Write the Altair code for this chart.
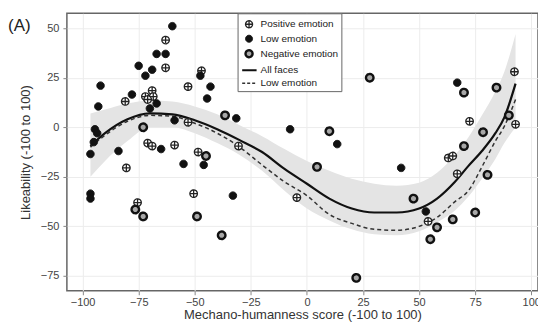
import altair as alt
import pandas as pd

# ---- data ----
pos_x = [-63, -63, -81, -69, -72, -68.5, -71, -53, -47, -53, -71, -69, -59, -48.5, -30.5,
         -80.5, -75.5, -50.5, -4.5, 92.5, 72.5, 93, 63, 65, 67, 54]
pos_y = [44, 30, 13, 18.5, 15.5, 15.5, 14, 20.5, 28.5, 2.5, -8, -9.5, -9, -12.5, -9.5,
         -20.5, -38, -33.5, -35.5, 28, 3, 1.5, -15.5, -14.5, -23.5, -47.5]

low_x = [-60, -67, -63, -75, -69, -72, -92, -78, -67, -70, -93, -47.5, -43, -44.5, -31.5,
         -59, -94.5, -93.5, -95, -96.5, -84, -65, -55, -46, -96.5, -96.5, -33, -7.5, 13.5,
         42, 67, 53]
low_y = [51, 37, 37, 31, 29, 26, 21, 16.5, 12, 9.5, 10.5, 26, 20.5, 14.5, 4.5,
         3.5, -1, -3, -7.5, -13.5, -12, -11, -18.5, -19, -33.5, -36, -34.5, -1, -8.5,
         -20.5, 22.5, -42.5]

neg_x = [-73, -36.5, -45, -76.5, -73, -49, -38, 28, 10, 4.5, 70, 84.5, 90, 78.5, 70,
         80.5, 47.5, 58, 55, 65, 75, 22]
neg_y = [0, 6, -14.5, -41.5, -45, -45, -54.5, 25, -2, -20, 17.5, 20, 6, -2.5, -9.5,
         -24, -36, -50.5, -56.5, -46.5, -43, -76]

fit_x = [-96.5, -90, -80, -70, -60, -50, -40, -30, -20, -10, 0, 10, 20, 30, 40, 50,
         58, 66, 72, 78, 84, 88, 93]
all_y = [-9.5, -3, 4, 7, 6.5, 3.5, -1, -6.5, -12.5, -21, -28.5, -36, -41, -43, -43, -41,
         -36, -27.5, -19.5, -12, -3, 5, 22]
lowfit_y = [-10, -4, 3, 6, 5.5, 2, -3, -10, -19, -27.5, -34.5, -44, -48.5, -51.5, -52, -50,
            -45.5, -37.5, -32, -20, -7, 0.5, 14]
band_lo = [-25, -17, -7, 0, 0, -3, -8, -14, -22, -32, -41, -47, -51.5, -54, -54.5, -52.5,
           -48, -42, -35, -26, -16, -8, 0]
band_hi = [7, 9, 12, 13.5, 13, 10.5, 6.5, 1, -4.5, -11, -17, -22, -26, -28.5, -29.5, -28,
           -23, -14, -5, 6, 18, 28, 47]

x_ticks = [-100, -75, -50, -25, 0, 25, 50, 75, 100]
y_ticks = [-75, -50, -25, 0, 25, 50]

keys = ["pos", "low", "neg", "all", "lowfit"]
label_expr = ("datum.label == 'pos' ? 'Positive emotion' : datum.label == 'low' ? 'Low emotion' : "
              "datum.label == 'neg' ? 'Negative emotion' : datum.label == 'all' ? 'All faces' : 'Low emotion'")

# ---- tables ----
pts = pd.concat([
    pd.DataFrame({"x": pos_x, "y": pos_y, "g": "pos"}),
    pd.DataFrame({"x": low_x, "y": low_y, "g": "low"}),
    pd.DataFrame({"x": neg_x, "y": neg_y, "g": "neg"}),
], ignore_index=True)
fit = pd.DataFrame({"x": fit_x, "all": all_y, "lowfit": lowfit_y, "lo": band_lo, "hi": band_hi})

circ = "M-0.51,0A0.51,0.51,0,1,0,0.51,0A0.51,0.51,0,1,0,-0.51,0Z"
plus = "M-0.42,0L0.42,0M0,-0.42L0,0.42"
shapes = [circ + plus, circ, circ, "M-1,0L1.1,0", "M-1,0L1.1,0"]

xs = alt.Scale(domain=[-107, 103], nice=False, zero=False)
ys = alt.Scale(domain=[-82.5, 57.5], nice=False, zero=False)
xt = "Mechano-humanness score (-100 to 100)"
yt = "Likeability (-100 to 100)"


def X():
    return alt.X("x:Q", scale=xs, title=xt, axis=alt.Axis(values=x_ticks, format="d"))


def Y(f):
    return alt.Y(f + ":Q", scale=ys, title=yt, axis=alt.Axis(values=y_ticks, format="d"))


band = alt.Chart(fit).mark_area(color="#e4e4e4", interpolate="monotone").encode(
    x=X(), y=Y("lo"), y2="hi:Q")
solid = alt.Chart(fit).mark_line(color="#111", strokeWidth=2.2, interpolate="monotone").encode(
    x=X(), y=Y("all"))
dashed = alt.Chart(fit).mark_line(color="#333", strokeWidth=1.5, strokeDash=[4, 3],
                                  interpolate="monotone").encode(x=X(), y=Y("lowfit"))

leg = alt.Legend(orient="none", legendX=171, legendY=0, title=None, padding=3,
                 strokeColor="#666", fillColor="white", symbolSize=189, rowPadding=0,
                 labelOffset=3, labelFontSize=10, labelColor="#222", labelExpr=label_expr)
points = alt.Chart(pts).mark_point(filled=True, size=216, opacity=1).encode(
    x=X(), y=Y("y"),
    shape=alt.Shape("g:N", scale=alt.Scale(domain=keys, range=shapes), legend=leg),
    fill=alt.Fill("g:N", scale=alt.Scale(domain=keys, range=["white", "#111", "#a8a8a8", "transparent", "transparent"]), legend=leg),
    stroke=alt.Stroke("g:N", scale=alt.Scale(domain=keys, range=["#222", "#111", "#111", "#111", "#333"]), legend=leg),
    strokeWidth=alt.StrokeWidth("g:N", scale=alt.Scale(type="ordinal", domain=keys, range=[1.3, 1, 2.4, 2, 1.5]), legend=leg),
    strokeDash=alt.StrokeDash("g:N", scale=alt.Scale(domain=keys, range=[[1, 0], [1, 0], [1, 0], [1, 0], [3, 2]]), legend=leg),
)

chart = alt.layer(band, solid, dashed, points).properties(
    width=472, height=278,
    autosize=alt.AutoSizeParams(type="none"),
    padding={"left": 59, "top": 5, "right": 0, "bottom": 31},
    title=alt.TitleParams("(A)", anchor="start", frame="group", dx=-59, dy=26, fontSize=17,
                          fontWeight="normal", color="#222", font="Liberation Sans"),
).configure_view(stroke="#666", strokeWidth=1.5).configure_axis(
    grid=True, gridColor="#ececec", domain=False, tickColor="#888", tickSize=4,
    labelColor="#444", labelFont="Liberation Sans", labelFontSize=11,
    titleFont="Liberation Sans", titleFontSize=13, titleColor="#333", titleFontWeight="normal",
).configure_axisY(titlePadding=8, labelPadding=4).configure_axisX(
    titlePadding=1, labelPadding=2).configure_legend(labelFont="Liberation Sans")

chart.save("out.html", embed_options={"renderer": "svg", "actions": False})
